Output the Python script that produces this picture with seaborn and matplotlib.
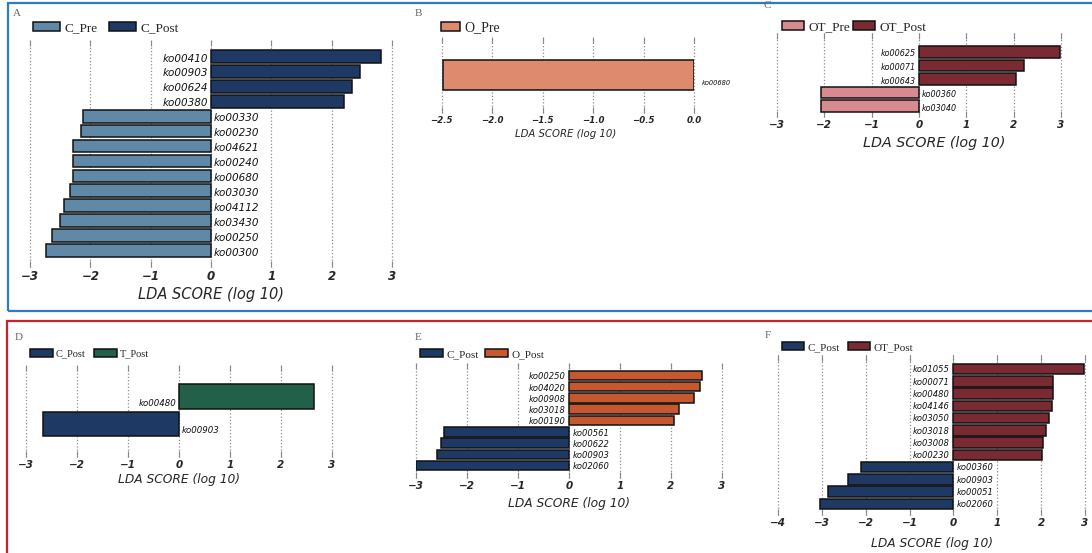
import matplotlib
matplotlib.use('Agg')
import matplotlib.pyplot as plt
import matplotlib.patches as mpatches
from matplotlib.ticker import MultipleLocator
import pandas as pd
import seaborn as sns

W, H = 1092, 553

# group colours
colors = {
    'C_Pre': '#6089a8',
    'C_Post': '#1e3a64',
    'O_Pre': '#de8a6e',
    'OT_Pre': '#d98a90',
    'OT_Post': '#7a2a32',
    'T_Post': '#23604a',
    'O_Post': '#c5582f',
}

# Panel A: C_Pre vs C_Post
a_features = ['ko00410', 'ko00903', 'ko00624', 'ko00380', 'ko00330', 'ko00230', 'ko04621',
              'ko00240', 'ko00680', 'ko03030', 'ko04112', 'ko03430', 'ko00250', 'ko00300']
a_scores = [2.82, 2.47, 2.33, 2.2, -2.12, -2.15, -2.29, -2.29, -2.29, -2.34, -2.44, -2.5, -2.64, -2.73]
a_groups = ['C_Post'] * 4 + ['C_Pre'] * 10

# Panel B: O_Pre
b_features = ['ko00680']
b_scores = [-2.49]
b_groups = ['O_Pre']

# Panel C: OT_Pre vs OT_Post
c_features = ['ko00625', 'ko00071', 'ko00643', 'ko00360', 'ko03040']
c_scores = [2.98, 2.22, 2.05, -2.07, -2.07]
c_groups = ['OT_Post'] * 3 + ['OT_Pre'] * 2

# Panel D: C_Post vs T_Post
d_features = ['ko00480', 'ko00903']
d_scores = [2.65, -2.66]
d_groups = ['T_Post', 'C_Post']

# Panel E: C_Post vs O_Post
e_features = ['ko00250', 'ko04020', 'ko00908', 'ko03018', 'ko00190',
              'ko00561', 'ko00622', 'ko00903', 'ko02060']
e_scores = [2.61, 2.57, 2.46, 2.16, 2.06, -2.46, -2.51, -2.59, -3.0]
e_groups = ['O_Post'] * 5 + ['C_Post'] * 4

# Panel F: C_Post vs OT_Post
f_features = ['ko01055', 'ko00071', 'ko00480', 'ko04146', 'ko03050', 'ko03018',
              'ko03008', 'ko00230', 'ko00360', 'ko00903', 'ko00051', 'ko02060']
f_scores = [2.98, 2.27, 2.27, 2.25, 2.19, 2.1, 2.05, 2.02, -2.11, -2.4, -2.87, -3.04]
f_groups = ['OT_Post'] * 8 + ['C_Post'] * 4

panels = [
    dict(letter='A', feats=a_features, vals=a_scores, grps=a_groups, order=['C_Pre', 'C_Post'],
         box=(30, 40, 392, 267), xlim=(-3, 3), step=1, ylim=(14.1, -1.1), width=0.85,
         lab_fs=7.5, lab_dx=2.2, lab_dy=-1.5, tick_fs=8.5, xl_fs=10.5, xl_pos=(211, 295),
         leg_pos=(33, 28), leg_fs=9.5, leg_hl=2.05, leg_hh=0.7, leg_cs=0.9, letter_pos=(13, 14)),
    dict(letter='B', feats=b_features, vals=b_scores, grps=b_groups, order=['O_Pre'],
         box=(441.7, 37, 694, 113), xlim=(-2.5, 0), step=0.5, ylim=(1.05, -1.05), width=0.85,
         lab_fs=4.8, lab_dx=5.5, lab_dy=-5.8, tick_fs=6.2, xl_fs=7.3, xl_pos=(566, 134),
         leg_pos=(441, 28), leg_fs=10, leg_hl=1.37, leg_hh=0.6, leg_cs=0.5, letter_pos=(415, 14)),
    dict(letter='C', feats=c_features, vals=c_scores, grps=c_groups, order=['OT_Pre', 'OT_Post'],
         box=(777, 33, 1061, 117), xlim=(-3, 3), step=1, ylim=(4.8, -1.38), width=0.85,
         lab_fs=5.8, lab_dx=2.0, lab_dy=-1.5, tick_fs=7.5, xl_fs=10.3, xl_pos=(934, 143),
         leg_pos=(782, 27), leg_fs=9.5, leg_hl=1.7, leg_hh=0.7, leg_cs=0.2, letter_pos=(763, 6)),
    dict(letter='D', feats=d_features, vals=d_scores, grps=d_groups, order=['C_Post', 'T_Post'],
         box=(26, 365, 332, 457), xlim=(-3, 3), step=1, ylim=(2.2, -1.15), width=0.9,
         lab_fs=6.2, lab_dx=2.0, lab_dy=-5.0, tick_fs=7.5, xl_fs=8.8, xl_pos=(179, 480),
         leg_pos=(30, 354), leg_fs=7.5, leg_hl=2.2, leg_hh=0.75, leg_cs=0.8, letter_pos=(15, 338)),
    dict(letter='E', feats=e_features, vals=e_scores, grps=e_groups, order=['C_Post', 'O_Post'],
         box=(416, 363, 722, 478), xlim=(-3, 3), step=1, ylim=(9.1, -1.1), width=0.85,
         lab_fs=6.0, lab_dx=2.5, lab_dy=-1.0, tick_fs=7.5, xl_fs=8.8, xl_pos=(569, 503),
         leg_pos=(420, 354), leg_fs=8, leg_hl=2.07, leg_hh=0.8, leg_cs=0.6, letter_pos=(415, 338)),
    dict(letter='F', feats=f_features, vals=f_scores, grps=f_groups, order=['C_Post', 'OT_Post'],
         box=(778, 355, 1085, 515), xlim=(-4, 3), step=1, ylim=(11.9, -1.15), width=0.85,
         lab_fs=6.0, lab_dx=2.5, lab_dy=-0.5, tick_fs=7.5, xl_fs=8.8, xl_pos=(932, 543),
         leg_pos=(782, 347), leg_fs=8, leg_hl=2.0, leg_hh=0.8, leg_cs=0.7, letter_pos=(765, 336)),
]

sns.set_style('white')
fig = plt.figure(figsize=(W / 100, H / 100), dpi=100)

for p in panels:
    l, t, r, b = p['box']
    ax = fig.add_axes([l / W, 1 - b / H, (r - l) / W, (b - t) / H])
    ax.set_axisbelow(True)
    df = pd.DataFrame({'feature': p['feats'], 'score': p['vals'], 'group': p['grps']})
    sns.barplot(data=df, x='score', y='feature', hue='group', hue_order=p['order'],
                palette=colors, dodge=False, orient='h', width=p['width'], saturation=1,
                edgecolor='#111111', linewidth=1.1, ax=ax, zorder=3)

    ax.set_xlim(*p['xlim'])
    ax.set_ylim(*p['ylim'])
    ax.xaxis.set_major_locator(MultipleLocator(p['step']))
    ax.set_yticks([])
    ax.set_ylabel('')
    for s in ax.spines.values():
        s.set_visible(False)
    ax.grid(axis='x', linestyle=':', color='#8f8f8f', linewidth=0.9)
    ax.tick_params(axis='x', which='both', top=True, bottom=True, direction='in', length=4,
                   width=0.8, color='#888888', pad=2, labelsize=p['tick_fs'])
    for lab in ax.get_xticklabels():
        lab.set_fontstyle('italic')
        lab.set_fontweight('bold')
    for gl in ax.get_xgridlines():
        gl.set_clip_on(False)

    xl_ax = (p['xl_pos'][0] - l) / (r - l)
    yl_ax = (b - p['xl_pos'][1]) / (b - t)
    ax.set_xlabel('LDA SCORE (log 10)', fontsize=p['xl_fs'], style='italic', va='center')
    ax.xaxis.set_label_coords(xl_ax, yl_ax)

    # feature names next to the zero line
    for i, (f, v) in enumerate(zip(p['feats'], p['vals'])):
        dx = -p['lab_dx'] if v > 0 else p['lab_dx']
        ax.annotate(f, xy=(0, i), xytext=(dx, p['lab_dy']), textcoords='offset points',
                    ha='right' if v > 0 else 'left', va='center', fontsize=p['lab_fs'],
                    style='italic', color='#111111', annotation_clip=False, zorder=4)

    handles, labels = ax.get_legend_handles_labels()
    if ax.get_legend() is not None:
        ax.get_legend().remove()
    lx, ly = p['leg_pos']
    ax.legend(handles, labels, loc='center left', bbox_to_anchor=(lx / W, 1 - ly / H),
              bbox_transform=fig.transFigure, ncol=len(labels), frameon=False,
              borderpad=0, borderaxespad=0, handlelength=p['leg_hl'], handleheight=p['leg_hh'],
              handletextpad=0.3, columnspacing=p['leg_cs'],
              prop={'family': 'Liberation Serif', 'size': p['leg_fs']})

    px, py = p['letter_pos']
    fig.text(px / W, 1 - py / H, p['letter'], fontsize=8, family='Liberation Serif',
             color='#666666', ha='left', va='center')

# frames round the two rows
fig.add_artist(mpatches.Rectangle((7.5 / W, 1 - 310.5 / H), (1100 - 7.5) / W, (310.5 - 2.7) / H,
                                  transform=fig.transFigure, fill=False, edgecolor='#2b7cc0',
                                  linewidth=1.6))
fig.add_artist(mpatches.Rectangle((7 / W, -0.05), (1100 - 7) / W, 0.05 + (1 - 321 / H),
                                  transform=fig.transFigure, fill=False, edgecolor='#c8222e',
                                  linewidth=1.6))

fig.savefig('out.png', dpi=100)
